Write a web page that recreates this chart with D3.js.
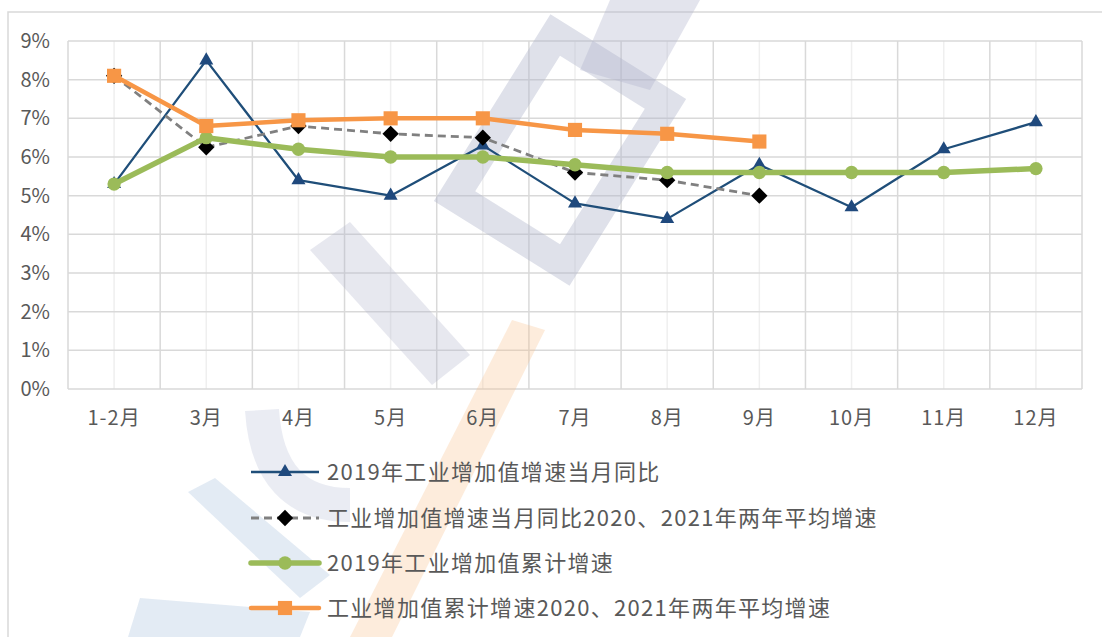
<!DOCTYPE html>
<html>
<head>
<meta charset="utf-8">
<script src="https://cdn.jsdelivr.net/npm/d3@7"></script>
<style>
  body { margin: 0; background: #fff; }
  text { font-family: "Noto Sans CJK SC", "Noto Sans", sans-serif; fill: #595959; }
</style>
</head>
<body>
<svg id="chart" width="1102" height="637"></svg>
<script>
// Data
const months = ["1-2月", "3月", "4月", "5月", "6月", "7月", "8月", "9月", "10月", "11月", "12月"];
const yoy2019 = [5.3, 8.5, 5.4, 5.0, 6.3, 4.8, 4.4, 5.8, 4.7, 6.2, 6.9];
const yoyTwoYear = [8.1, 6.25, 6.8, 6.6, 6.5, 5.6, 5.4, 5.0];
const cum2019 = [5.3, 6.5, 6.2, 6.0, 6.0, 5.8, 5.6, 5.6, 5.6, 5.6, 5.7];
const cumTwoYear = [8.1, 6.8, 6.95, 7.0, 7.0, 6.7, 6.6, 6.4];
const yTicks = [0, 1, 2, 3, 4, 5, 6, 7, 8, 9];
const seriesNames = [
  "2019年工业增加值增速当月同比",
  "工业增加值增速当月同比2020、2021年两年平均增速",
  "2019年工业增加值累计增速",
  "工业增加值累计增速2020、2021年两年平均增速"
];

const svg = d3.select("svg#chart");

// Outer frame
svg.append("rect")
  .attr("x", 8).attr("y", 12)
  .attr("width", 1110).attr("height", 640)
  .attr("fill", "none")
  .attr("stroke", "#d9d9d9")
  .attr("stroke-width", 1.5);

// Scales
const x = d3.scalePoint().domain(months).range([68, 1082]).padding(0.5);
const y = d3.scaleLinear().domain([0, 9]).range([389, 41]);
const step = x.step();

// Grid
const grid = svg.append("g");
// minor vertical lines at category centres
grid.selectAll("line.minor")
  .data(months)
  .join("line")
    .attr("x1", d => x(d)).attr("x2", d => x(d))
    .attr("y1", y(9)).attr("y2", y(0))
    .attr("stroke", "#efefef").attr("stroke-width", 1.5);
// major vertical lines at category borders
grid.selectAll("line.major")
  .data(d3.range(months.length + 1))
  .join("line")
    .attr("x1", i => 68 + i * step).attr("x2", i => 68 + i * step)
    .attr("y1", y(9)).attr("y2", y(0))
    .attr("stroke", "#d9d9d9").attr("stroke-width", 1.5);
grid.selectAll("line.h")
  .data(yTicks)
  .join("line")
    .attr("x1", 68).attr("x2", 1082)
    .attr("y1", d => y(d)).attr("y2", d => y(d))
    .attr("stroke", "#d9d9d9").attr("stroke-width", 1.5);

// Watermark (faint)
const wm = svg.append("g").style("pointer-events", "none");
wm.append("rect")
  .attr("x", -95).attr("y", -65).attr("width", 190).attr("height", 130)
  .attr("transform", "translate(560,150) rotate(-58)")
  .attr("fill", "none").attr("stroke", "#aeb3cb").attr("stroke-width", 30).attr("opacity", 0.4);
wm.append("polygon")
  .attr("points", "610,0 700,0 650,90 580,70")
  .attr("fill", "#aeb3cb").attr("opacity", 0.35);
wm.append("polygon")
  .attr("points", "310,250 350,222 470,355 432,385")
  .attr("fill", "#aeb3cb").attr("opacity", 0.3);
wm.append("polygon")
  .attr("points", "512,320 545,330 392,637 350,637")
  .attr("fill", "#f8c08a").attr("opacity", 0.3);
wm.append("polygon")
  .attr("points", "188,492 215,478 330,575 300,598")
  .attr("fill", "#b9cce4").attr("opacity", 0.4);
wm.append("polygon")
  .attr("points", "140,598 310,612 300,637 128,637")
  .attr("fill", "#b9cce4").attr("opacity", 0.4);
wm.append("path")
  .attr("d", "M262,410 Q268,505 350,505")
  .attr("fill", "none").attr("stroke", "#c3c9dc").attr("stroke-width", 34).attr("opacity", 0.35);

// Axis labels
svg.append("g").selectAll("text")
  .data(yTicks)
  .join("text")
    .attr("x", 50).attr("y", d => y(d))
    .attr("dy", "0.35em")
    .attr("text-anchor", "end")
    .style("font-size", "20px")
    .text(d => d + "%");

svg.append("g").selectAll("text")
  .data(months)
  .join("text")
    .attr("x", d => x(d)).attr("y", 418)
    .attr("dy", "0.35em")
    .attr("text-anchor", "middle")
    .style("font-size", "20px")
    .style("letter-spacing", "1px")
    .text(d => d);

// Series
const line = d3.line().x((d, i) => x(months[i])).y(d => y(d));

const series = [
  { values: yoy2019, color: "#1f4e79", width: 2.3, dash: null, marker: "triangle", mColor: "#1f497d", mSize: 85 },
  { values: yoyTwoYear, color: "#808080", width: 2.8, dash: "8,5", marker: "diamond", mColor: "#000000", mSize: 170 },
  { values: cum2019, color: "#9bbb59", width: 5.5, dash: null, marker: "circle", mColor: "#9bbb59", mSize: 140 },
  { values: cumTwoYear, color: "#f79646", width: 4.5, dash: null, marker: "square", mColor: "#f79646", mSize: 200 }
];
const symbolType = { triangle: d3.symbolTriangle, diamond: d3.symbolDiamond2, circle: d3.symbolCircle, square: d3.symbolSquare };

function drawSeries(s) {
  svg.append("path")
    .datum(s.values)
    .attr("d", line)
    .attr("fill", "none")
    .attr("stroke", s.color)
    .attr("stroke-width", s.width)
    .attr("stroke-linejoin", "round")
    .attr("stroke-dasharray", s.dash);
  svg.append("g").selectAll("path")
    .data(s.values)
    .join("path")
      .attr("transform", (d, i) => "translate(" + x(months[i]) + "," + y(d) + ")")
      .attr("d", d3.symbol().type(symbolType[s.marker]).size(s.mSize))
      .attr("fill", s.mColor);
}
series.forEach(drawSeries);

// Legend
const legendY = [472, 518, 563, 608];
const legend = svg.append("g");
series.forEach((s, i) => {
  const g = legend.append("g").attr("transform", "translate(0," + legendY[i] + ")");
  g.append("line")
    .attr("x1", 251).attr("x2", 319)
    .attr("stroke", s.color)
    .attr("stroke-width", s.width)
    .attr("stroke-linecap", s.width > 4 ? "round" : "butt")
    .attr("stroke-dasharray", s.dash);
  g.append("path")
    .attr("transform", "translate(285,0)")
    .attr("d", d3.symbol().type(symbolType[s.marker]).size(s.mSize))
    .attr("fill", s.mColor);
  g.append("text")
    .attr("x", 327).attr("dy", "0.35em")
    .style("font-size", "22px")
    .style("letter-spacing", "1.3px")
    .text(seriesNames[i]);
});
</script>
</body>
</html>
